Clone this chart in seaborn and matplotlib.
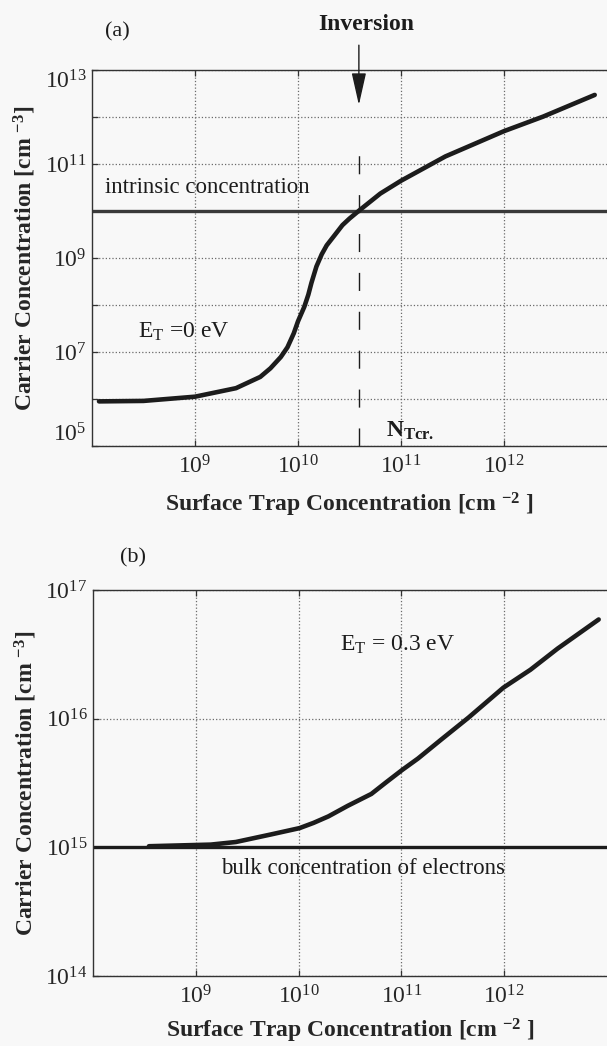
"""Carrier concentration vs surface trap concentration, two panels"""

import matplotlib
matplotlib.use("Agg")
import matplotlib.pyplot as plt
import seaborn as sns
from matplotlib.ticker import FixedLocator, FixedFormatter, NullLocator

# panel (a): E_T = 0 eV
trap_a = [1.17e8, 3.16e8, 1.0e9, 2.5e9, 4.3e9, 5.4e9, 6.8e9, 7.9e9, 9.1e9, 1.0e10,
          1.15e10, 1.26e10, 1.35e10, 1.51e10, 1.7e10, 1.9e10, 2.24e10, 2.7e10, 3.16e10,
          3.98e10, 6.3e10, 1.0e11, 2.7e11, 1.0e12, 2.4e12, 7.6e12]
carrier_a = [8.9e5, 9.1e5, 1.12e6, 1.7e6, 2.95e6, 4.5e6, 7.8e6, 1.26e7, 2.5e7, 4.5e7,
             9.1e7, 1.66e8, 2.95e8, 6.6e8, 1.2e9, 1.86e9, 2.95e9, 5.0e9, 6.9e9,
             1.05e10, 2.35e10, 4.4e10, 1.45e11, 5.0e11, 1.02e12, 2.95e12]

# panel (b): E_T = 0.3 eV
trap_b = [3.5e8, 1.4e9, 2.45e9, 5.4e9, 1.02e10, 1.4e10, 1.95e10, 3.0e10, 5.1e10, 7.1e10,
          1.02e11, 1.45e11, 2.45e11, 4.5e11, 9.8e11, 1.8e12, 3.3e12, 8.3e12]
carrier_b = [1.02e15, 1.05e15, 1.1e15, 1.26e15, 1.41e15, 1.55e15, 1.74e15, 2.1e15, 2.6e15, 3.2e15,
             4.0e15, 4.9e15, 6.9e15, 1.02e16, 1.74e16, 2.4e16, 3.5e16, 5.9e16]

intrinsic_conc = 1e10
bulk_conc = 1e15
n_tcr = 3.9e10

x_ticks = [1e9, 1e10, 1e11, 1e12]
x_tick_labels = [r"$10^{9}$", r"$10^{10}$", r"$10^{11}$", r"$10^{12}$"]
y_ticks_a = [1e5, 1e6, 1e7, 1e8, 1e9, 1e10, 1e11, 1e12, 1e13]
y_tick_labels_a = [r"$10^{5}$", "", r"$10^{7}$", "", r"$10^{9}$", "", r"$10^{11}$", "", r"$10^{13}$"]
y_ticks_b = [1e14, 1e15, 1e16, 1e17]
y_tick_labels_b = [r"$10^{14}$", r"$10^{15}$", r"$10^{16}$", r"$10^{17}$"]

sns.set_style("ticks")
plt.rcParams['font.family'] = ['Liberation Serif', 'DejaVu Serif']
plt.rcParams['mathtext.fontset'] = 'custom'
plt.rcParams['mathtext.rm'] = 'Liberation Serif'
plt.rcParams['mathtext.it'] = 'Liberation Serif:italic'
plt.rcParams['mathtext.bf'] = 'Liberation Serif:bold'

W, H = 607, 1046
INK = '#1c1c1c'
BG = '#f8f8f8'
FS = 17

fig = plt.figure(figsize=(W / 100, H / 100), dpi=100, facecolor=BG)


def px(x, y):
    """pixel position -> figure fraction"""
    return x / W, 1 - y / H


ax_a = fig.add_axes([92 / W, (H - 446) / H, (W - 92) / W, 376 / H])
ax_b = fig.add_axes([93 / W, (H - 976) / H, (W - 93) / W, 386 / H])


def style_axes(ax, ylim, yticks, ylabels):
    ax.set_facecolor(BG)
    ax.set_xscale('log')
    ax.set_yscale('log')
    ax.set_xlim(1e8, 1e13)
    ax.set_ylim(*ylim)
    ax.xaxis.set_major_locator(FixedLocator(x_ticks))
    ax.xaxis.set_major_formatter(FixedFormatter(x_tick_labels))
    ax.yaxis.set_major_locator(FixedLocator(yticks))
    ax.yaxis.set_major_formatter(FixedFormatter(ylabels))
    ax.xaxis.set_minor_locator(NullLocator())
    ax.yaxis.set_minor_locator(NullLocator())
    ax.grid(True, which='major', ls=':', color='#6a6a6a', lw=0.9)
    ax.set_axisbelow(True)
    ax.tick_params(direction='in', length=4, width=0.9, color='#333333', top=True,
                   labelsize=FS, pad=4)
    ax.tick_params(axis='x', pad=7)
    for side in ['left', 'top', 'bottom']:
        ax.spines[side].set_color('#333333')
        ax.spines[side].set_linewidth(1.0)
    ax.spines['right'].set_visible(False)
    ax.set_xlabel(r"Surface Trap Concentration [cm $^{\mathbf{-2}}$ ]", fontsize=FS, fontweight='bold')
    ax.set_ylabel(r"Carrier Concentration [cm $^{\mathbf{-3}}$]", fontsize=FS, fontweight='bold')


# ---- panel (a) ----
style_axes(ax_a, (1e5, 1e13), y_ticks_a, y_tick_labels_a)
ax_a.axhline(intrinsic_conc, color='#3a3a3a', lw=2.4, zorder=2)
sns.lineplot(x=trap_a, y=carrier_a, ax=ax_a, color=INK, lw=3.3, sort=False, estimator=None, zorder=3)
ax_a.axvline(n_tcr, ymin=0, ymax=0.822, color=INK, lw=1.0, ls=(0, (13, 15)), zorder=2)
ax_a.annotate('', xy=(n_tcr, 0.907), xycoords=('data', 'axes fraction'),
              xytext=(n_tcr, 1.066), textcoords=('data', 'axes fraction'),
              arrowprops=dict(arrowstyle='-|>,head_length=2.0,head_width=0.45', mutation_scale=10,
                              color=INK, lw=1.0, shrinkA=0, shrinkB=0), annotation_clip=False)
ax_a.text(1.34e8, 3.1e10, "intrinsic concentration", fontsize=FS - 0.5, va='center', ha='left', color=INK)
ax_a.text(2.8e8, 2.0e7, r"E$_{\mathrm{T}}$ =0 eV", fontsize=FS, va='baseline', ha='left', color=INK)
ax_a.text(7.1e10, 1.55e5, r"N$_{\mathbf{Tcr.}}$", fontsize=FS, fontweight='bold', va='baseline',
          ha='left', color=INK)
ax_a.yaxis.set_label_coords(-0.105, 0.5)
ax_a.xaxis.set_label_coords(0.5, -0.118)
ytl = ax_a.get_yticklabels()
ytl[0].set_va('bottom')
ytl[-1].set_va('top')

fig.text(*px(117, 32), "(a)", fontsize=FS - 1, ha='center', va='center', color=INK)
fig.text(*px(366, 25), "Inversion", fontsize=FS, fontweight='bold', ha='center', va='center', color=INK)

# ---- panel (b) ----
style_axes(ax_b, (1e14, 1e17), y_ticks_b, y_tick_labels_b)
ax_b.axhline(bulk_conc, color=INK, lw=2.4, zorder=2)
sns.lineplot(x=trap_b, y=carrier_b, ax=ax_b, color=INK, lw=3.3, sort=False, estimator=None, zorder=3)
ax_b.text(2.5e10, 3.35e16, r"E$_{\mathrm{T}}$ = 0.3 eV", fontsize=FS, va='baseline', ha='left', color=INK)
ax_b.text(1.75e9, 6.2e14, "bulk concentration of electrons", fontsize=FS - 0.5, va='baseline',
          ha='left', color=INK)
ax_b.yaxis.set_label_coords(-0.105, 0.5)
ax_b.xaxis.set_label_coords(0.5, -0.106)

fig.text(*px(133, 558), "(b)", fontsize=FS - 1, ha='center', va='center', color=INK)

fig.savefig("out.png", dpi=100, facecolor=BG)
